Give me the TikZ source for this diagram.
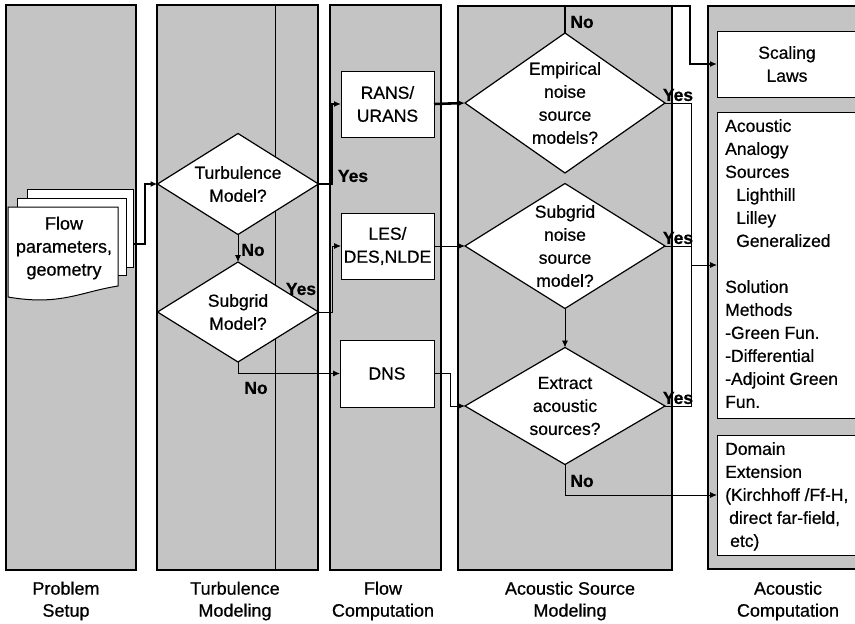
\documentclass[tikz,border=0pt]{standalone}
\usepackage{fontspec}
\setmainfont{Liberation Sans}[FakeBold=0.6]
\usetikzlibrary{shapes.geometric,arrows.meta,calc}
\definecolor{panelgray}{RGB}{196,196,196}
\newcommand\mytxt{\fontsize{17.5}{23}\selectfont}
\newcommand\mylab{\fontsize{18}{22}\selectfont}
\begin{document}
\begin{tikzpicture}[x=1pt,y=-1pt,
  panel/.style={draw=black,line width=1.3pt,fill=panelgray},
  dia/.style={diamond,draw=black,line width=1.2pt,fill=white,inner sep=0pt,outer sep=0pt},
  fbox/.style={draw=black,line width=1pt,fill=white,inner sep=0pt,outer sep=0pt,align=center,font=\mytxt},
  txt/.style={align=center,font=\mytxt,inner sep=0pt},
  ltxt/.style={align=left,font=\mytxt,inner sep=0pt,anchor=north west},
  lbl/.style={font=\bfseries\mytxt,inner sep=0pt},
  coltitle/.style={align=center,font=\mylab,inner sep=0pt},
  thickc/.style={line width=2.6pt,-{Latex[length=7pt,width=6pt]}},
  thinc/.style={line width=0.9pt,-{Latex[length=7pt,width=6pt]}},
  thinl/.style={line width=0.9pt},
]
\useasboundingbox (0,0) rectangle (855,624);
\fill[white] (0,0) rectangle (855,624);

% panels
\draw[panel] (6,5) rectangle (136,570);
\draw[panel] (157,5) rectangle (318,570);
\draw[line width=0.6pt] (275,5) -- (275,570);
\draw[panel] (330,5) rectangle (441,570);
\draw[panel] (458,6) rectangle (672,570);
\draw[panel] (708,6) rectangle (880,569);

% problem setup: document stack
\draw[line width=1pt,fill=white] (27,189) rectangle (133,267);
\draw[line width=1pt,fill=white] (17,198) rectangle (126,275);
\draw[line width=1pt,fill=white] (8,207) -- (118,207) -- (118,286)
   .. controls (80,292) and (60,306) .. (8,297) -- cycle;
\node[txt,font=\fontsize{18}{23}\selectfont] (doc) at (64,248) {Flow\\parameters,\\geometry};
\coordinate (docout) at (133,244);

% turbulence modeling
\node[dia,minimum width=161pt,minimum height=101pt,
      label={[txt]center:Turbulence\\Model?}] (turb) at (238,184) {};
\node[dia,minimum width=161pt,minimum height=100pt,
      label={[txt]center:Subgrid\\Model?}] (sg) at (238,312) {};

% flow computation
\node[fbox,minimum width=93pt,minimum height=66pt] (rans) at (387.5,104) {RANS/\\URANS};
\node[fbox,minimum width=93pt,minimum height=66pt] (les) at (387.5,246) {LES/\\DES,NLDE};
\node[fbox,minimum width=94pt,minimum height=67pt] (dns) at (387,373.5) {DNS};

% acoustic source modeling
\node[dia,minimum width=200pt,minimum height=140pt,
      label={[txt]center:Empirical\\noise\\source\\models?}] (emp) at (565,103) {};
\node[dia,minimum width=200pt,minimum height=125pt,
      label={[txt]center:Subgrid\\noise\\source\\model?}] (sgn) at (565,246) {};
\node[dia,minimum width=200pt,minimum height=117pt,
      label={[txt]center:Extract\\acoustic\\sources?}] (ext) at (565,406) {};

% acoustic computation
\node[fbox,minimum width=143pt,minimum height=66pt,anchor=north west] (scal) at (717,31) {};
\node[txt] (scaltxt) at (787,64) {Scaling\\Laws};
\node[fbox,minimum width=143pt,minimum height=306pt,anchor=north west] (aa) at (717,112) {};
\node[ltxt] (aatxt) at (725,119) {Acoustic\\Analogy\\Sources\\\hspace*{11pt}Lighthill\\\hspace*{11pt}Lilley\\\hspace*{11pt}Generalized\\[23pt]Solution\\Methods\\-Green Fun.\\-Differential\\-Adjoint Green\\Fun.};
\node[fbox,minimum width=143pt,minimum height=120pt,anchor=north west] (dom) at (717,435) {};
\node[ltxt] (domtxt) at (725,442) {Domain\\Extension\\(Kirchhoff /Ff-H,\\\hspace*{4pt}direct far-field,\\\hspace*{5pt}etc)};

% connectors
\draw[thickc] (docout) -- (145,244) |- (turb.west);
\draw[thickc] (turb.east) -- (332,184) |- (rans.west);
\draw[thinc] (turb.south) -- (sg.north);
\draw[thinc] (sg.east) -- (332,312) |- (les.west);
\draw[thinc] (sg.south) |- (dns.west);
\draw[thickc] (rans.east) -- (emp.west);
\draw[thinc] (les.east) -- (sgn.west);
\draw[thinc] (dns.east) -- (450,373.5) |- (ext.west);
\draw[thinc] (sgn.south) -- (ext.north);
\draw[thickc] (emp.north) -- (565,6) -| (690,64) -- (scal.west);
\draw[thinc] (emp.east) -- (691,103) |- (aa.west);
\draw[thinl] (sgn.east) -- (691,246);
\draw[thinl] (ext.east) -- (691,406) -- (691,265);
\draw[thinc] (ext.south) |- (dom.west);

% yes / no labels
\node[lbl] (ty) at (353,176) {Yes};
\node[lbl] (tn) at (253,250) {No};
\node[lbl] (sy) at (301,289) {Yes};
\node[lbl] (sn) at (256,388) {No};
\node[lbl] (en) at (582,22) {No};
\node[lbl] (ey) at (678,95) {Yes};
\node[lbl] (gy) at (678,238) {Yes};
\node[lbl] (xy) at (678,398) {Yes};
\node[lbl] (xn) at (582,481) {No};

% column captions
\node[coltitle] (c1) at (66,601) {Problem\\Setup};
\node[coltitle] (c2) at (235,601) {Turbulence\\Modeling};
\node[coltitle] (c3) at (383,601) {Flow\\Computation};
\node[coltitle] (c4) at (570,601) {Acoustic Source\\Modeling};
\node[coltitle] (c5) at (788,601) {Acoustic\\Computation};
\end{tikzpicture}
\end{document}
